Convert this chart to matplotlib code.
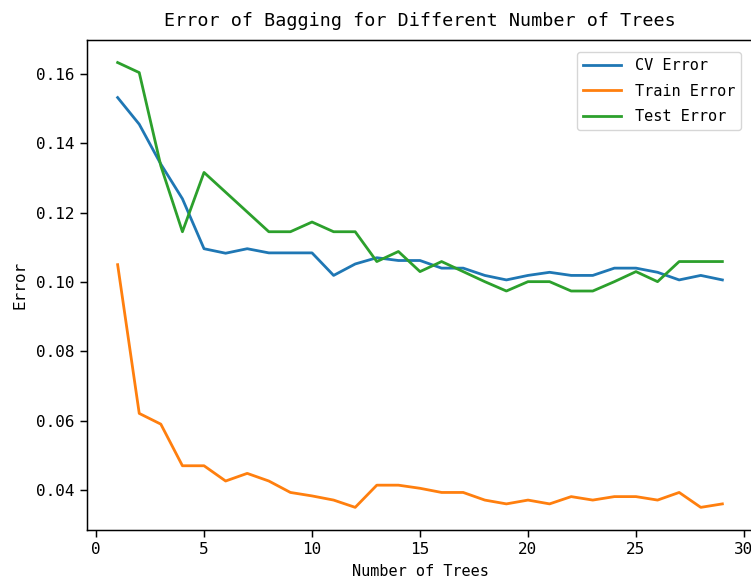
import matplotlib
matplotlib.use("Agg")
import matplotlib.pyplot as plt

n_trees = list(range(1, 30))
cv_error = [0.1532, 0.1455, 0.1340, 0.1240, 0.1096, 0.1083, 0.1096, 0.1084, 0.1084, 0.1084,
            0.1019, 0.1052, 0.1070, 0.1062, 0.1062, 0.1040, 0.1040, 0.1019, 0.1006, 0.1019,
            0.1028, 0.1019, 0.1019, 0.1040, 0.1040, 0.1028, 0.1006, 0.1019, 0.1006]
train_error = [0.1050, 0.0621, 0.0590, 0.0470, 0.0470, 0.0426, 0.0448, 0.0426, 0.0393, 0.0383,
               0.0371, 0.0350, 0.0414, 0.0414, 0.0405, 0.0393, 0.0393, 0.0371, 0.0360, 0.0371,
               0.0360, 0.0381, 0.0371, 0.0381, 0.0381, 0.0371, 0.0393, 0.0350, 0.0360]
test_error = [0.1633, 0.1604, 0.1335, 0.1145, 0.1316, 0.1259, 0.1202, 0.1145, 0.1145, 0.1173,
              0.1145, 0.1145, 0.1059, 0.1088, 0.1030, 0.1059, 0.1030, 0.1001, 0.0974, 0.1001,
              0.1001, 0.0974, 0.0974, 0.1001, 0.1030, 0.1001, 0.1059, 0.1059, 0.1059]

title = "Error of Bagging for Different Number of Trees"
xlabel = "Number of Trees"
ylabel = "Error"
labels = ["CV Error", "Train Error", "Test Error"]

plt.rcParams['font.family'] = ['DejaVu Sans Mono']

fig = plt.figure(figsize=(7.51, 5.81), dpi=100)
ax = fig.add_axes([87.4 / 751, (581 - 529.6) / 581, 665.2 / 751, 489.3 / 581])

lw = 2.0
ax.plot(n_trees, cv_error, color='#1f77b4', lw=lw, label=labels[0])
ax.plot(n_trees, train_error, color='#ff7f0e', lw=lw, label=labels[1])
ax.plot(n_trees, test_error, color='#2ca02c', lw=lw, label=labels[2])

ax.set_title(title, fontsize=13.2, pad=10.5)
ax.set_xlabel(xlabel, fontsize=11, labelpad=5)
ax.set_ylabel(ylabel, fontsize=11.5, labelpad=6)
ax.tick_params(labelsize=11.5, length=4.7, width=1.07, pad=4.5)
for s in ax.spines.values():
    s.set_linewidth(1.07)

leg = ax.legend(loc='upper right', fontsize=11, handlelength=2.5,
                labelspacing=0.7, borderaxespad=0.75, handletextpad=0.9)

fig.savefig("out.png", dpi=100)
